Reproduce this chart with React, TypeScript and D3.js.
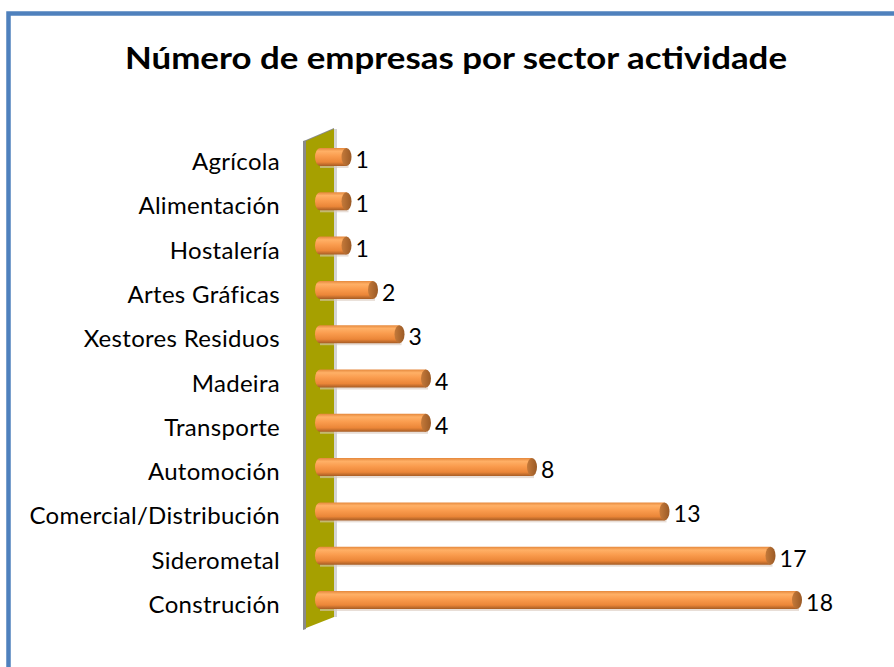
import React from "react";
import * as d3 from "d3";

const categories = [
  "Agrícola",
  "Alimentación",
  "Hostalería",
  "Artes Gráficas",
  "Xestores Residuos",
  "Madeira",
  "Transporte",
  "Automoción",
  "Comercial/Distribución",
  "Siderometal",
  "Construción",
];
const values = [1, 1, 1, 2, 3, 4, 4, 8, 13, 17, 18];
const title = "Número de empresas por sector actividade";

const W = 894;
const H = 667;

export default function App() {
  const x = d3.scaleLinear().domain([0, 18]).range([320, 797]);
  const y = d3
    .scalePoint<string>()
    .domain(categories)
    .range([157, 600]);
  const barH = 18;
  const rx = 5;
  const font = "Lato, 'Open Sans', 'DejaVu Sans', sans-serif";

  return (
    <svg
      width={W}
      height={H}
      style={{ position: "absolute", left: 0, top: 0, background: "#fff" }}
    >
      <defs>
        <linearGradient id="barGrad" x1="0" y1="0" x2="0" y2="1">
          <stop offset="0%" stopColor="#E5883C" />
          <stop offset="18%" stopColor="#FFB066" />
          <stop offset="45%" stopColor="#FA9C4E" />
          <stop offset="78%" stopColor="#EB8638" />
          <stop offset="100%" stopColor="#A65C24" />
        </linearGradient>
        <linearGradient id="capGrad" x1="0" y1="0" x2="1" y2="0">
          <stop offset="0%" stopColor="#C57A3A" />
          <stop offset="100%" stopColor="#9A5A26" />
        </linearGradient>
      </defs>
      <rect x={0} y={0} width={W} height={H} fill="#fff" />
      {/* chart border */}
      <rect
        x={8.5}
        y={13.5}
        width={W + 20}
        height={H + 20}
        fill="none"
        stroke="#4F81BD"
        strokeWidth={4.5}
      />
      <text
        x={456}
        y={69}
        textAnchor="middle"
        fontFamily={font}
        fontWeight="bold"
        fontSize={31}
        fill="#000"
        textLength={662}
        lengthAdjust="spacingAndGlyphs"
      >
        {title}
      </text>
      {/* wall */}
      <polygon points="306,140 306,629 303,630 303,141" fill="#8A8A8A" />
      <polygon points="306,140 334,128 334,131 306,142" fill="#8A8A8A" />
      <polygon points="306,141 334,129 334,617 306,628" fill="#A6A000" />
      <rect x={334} y={129} width={3} height={488} fill="#D4D4D4" />
      {/* bars */}
      {categories.map((c, i) => {
        const cy = y(c)!;
        const x0 = x(0);
        const x1 = x(values[i]);
        const top = cy - barH / 2;
        const bot = cy + barH / 2;
        const body = `M${x1},${top} L${x0},${top} A${rx},${barH / 2} 0 0 0 ${x0},${bot} L${x1},${bot} Z`;
        return (
          <g key={c}>
            <rect
              x={x0}
              y={bot - 1}
              width={x1 - x0 + 2}
              height={3}
              fill="#D9C8BC"
              opacity={0.6}
            />
            <path d={body} fill="url(#barGrad)" />
            <ellipse
              cx={x1}
              cy={cy}
              rx={rx}
              ry={barH / 2}
              fill="url(#capGrad)"
            />
            <text
              x={x1 + 9}
              y={cy + 11}
              fontFamily={font}
              fontSize={23}
              letterSpacing={0.5}
              fill="#000"
            >
              {values[i]}
            </text>
            <text
              x={280}
              y={cy + 13}
              textAnchor="end"
              fontFamily={font}
              fontSize={24}
              letterSpacing={0.3}
              fill="#000"
            >
              {c}
            </text>
          </g>
        );
      })}
    </svg>
  );
}
